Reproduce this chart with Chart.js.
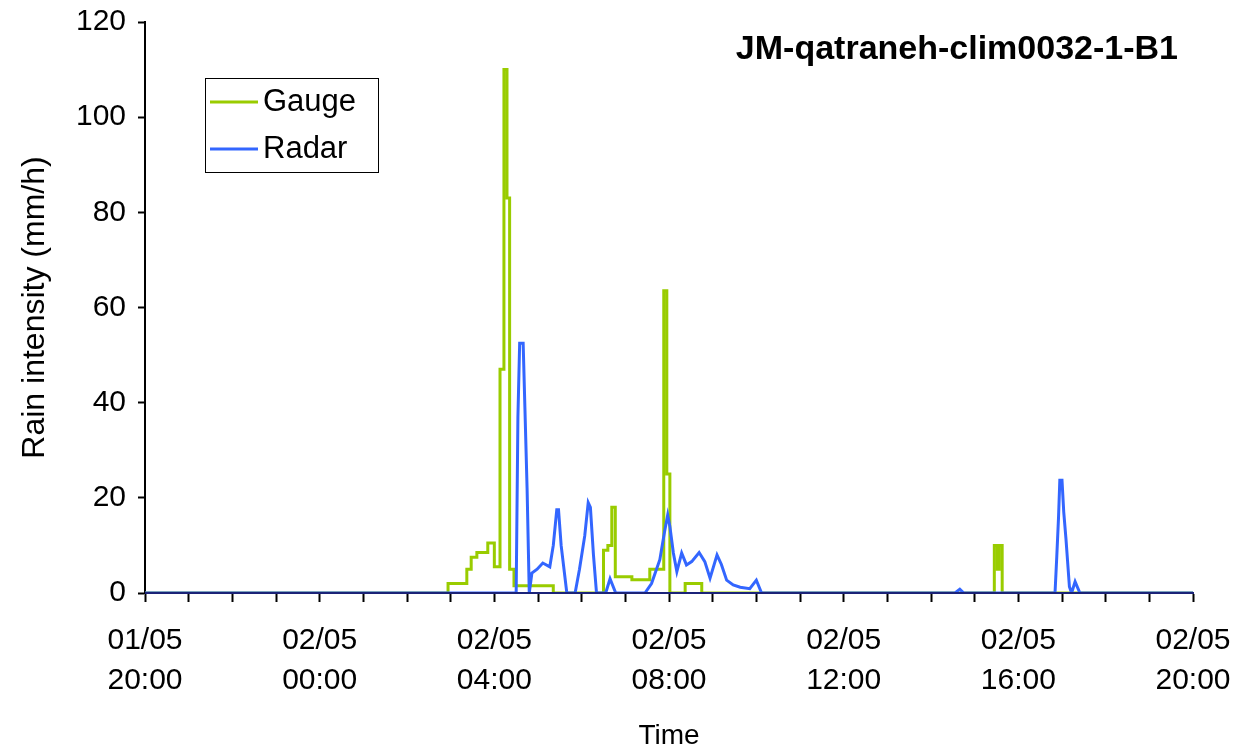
<!DOCTYPE html>
<html><head><meta charset="utf-8">
<script src="https://cdn.jsdelivr.net/npm/chart.js@4/dist/chart.umd.min.js"></script>
<style>html,body{margin:0;padding:0;background:#fff}</style>
</head><body>
<canvas id="c" width="1240" height="753"></canvas>
<script>
const chartTitle = 'JM-qatraneh-clim0032-1-B1';
const seriesNames = ['Gauge', 'Radar'];
const xTitle = 'Time';
const yTitle = 'Rain intensity (mm/h)';
// hours since 01/05 20:00
const tickHours = [0, 4, 8, 12, 16, 20, 24];
const tickDates = ['01/05', '02/05', '02/05', '02/05', '02/05', '02/05', '02/05'];
const tickTimes = ['20:00', '00:00', '04:00', '08:00', '12:00', '16:00', '20:00'];

const gaugeHours  = [0, 6.94, 7.37, 7.47, 7.6, 7.85, 8.0, 8.13, 8.22, 8.29, 8.35, 8.45, 9.35, 10.5, 10.6, 10.69, 10.77, 11.15, 11.56, 11.88, 11.95, 12.02, 12.37, 12.75, 19.45, 19.52, 19.56, 19.63, 24];
const gaugeValues = [0, 2,    5,    7.5,  8.5, 10.5, 5.5, 47,   110,  83,   5,    1.5,  0,    9,    10,   18,    3.4,   2.8,   5,     63.5,  25,    0,     2,     0,     10,    5,     10,    0,     0];

const radarHours  = [0, 8.5, 8.54, 8.58, 8.66, 8.7, 8.75, 8.8, 8.86, 8.98, 9.11, 9.27, 9.35, 9.43, 9.47, 9.53, 9.66, 9.85, 9.95, 10.07, 10.15, 10.2, 10.27, 10.34, 10.55, 10.65, 10.78, 11.45, 11.6, 11.79, 11.9, 11.97, 12.02, 12.1, 12.18, 12.29, 12.4, 12.52, 12.69, 12.82, 12.94, 13.1, 13.2, 13.32, 13.47, 13.63, 13.85, 14.0, 14.12, 18.55, 18.66, 18.75, 20.84, 20.88, 20.92, 20.95, 21.0, 21.04, 21.09, 21.17, 21.22, 21.3, 21.41, 24];
const radarValues = [0, 0,   37,   52.5, 52.5, 39,  22,   0,   4.2,  5,    6.3,  5.5,  10,   17.5, 17.5, 10,   0,    0,    5,    12,    19,    18,   8,     0,     0,     3,     0,     0,     2,    7,     13,   16.4,  14,    8.4,  4.5,   8.4,   5.9,  6.6,   8.5,   6.6,   3.1,   8,    6,    2.7,   1.7,   1.2,   0.9,   2.7,  0,     0,     0.8,   0,     0,     7.6,   15.8,  23.7,  23.7, 17,    11.5,  1.3,   0,     2.4,  0,     0];

const GREEN = '#99cc00';
const BLUE = '#3366ff';
const FONT = "'Liberation Sans', Arial, sans-serif";

const toXY = (xs, ys) => xs.map((x, i) => ({x: x, y: ys[i]}));

const overlay = {
  id: 'overlay',
  afterDatasetsDraw(chart) {
    const {ctx, chartArea} = chart;
    ctx.save();
    ctx.strokeStyle = '#1b2378';
    ctx.lineWidth = 2;
    ctx.beginPath();
    ctx.moveTo(chartArea.left, chartArea.bottom);
    ctx.lineTo(chartArea.right, chartArea.bottom);
    ctx.stroke();
    ctx.restore();
  },
  afterDraw(chart) {
    const {ctx} = chart;
    ctx.save();
    ctx.fillStyle = '#000';
    ctx.font = 'bold 34px ' + FONT;
    ctx.textAlign = 'right';
    ctx.textBaseline = 'middle';
    ctx.fillText(chartTitle, 1178, 50);
    // legend
    ctx.strokeStyle = '#000';
    ctx.lineWidth = 1;
    ctx.strokeRect(205.5, 78.5, 173, 94);
    const cols = [GREEN, BLUE];
    const ys = [102, 149];
    ctx.font = '31px ' + FONT;
    ctx.textAlign = 'left';
    for (let i = 0; i < 2; i++) {
      ctx.strokeStyle = cols[i];
      ctx.lineWidth = 3;
      ctx.beginPath();
      ctx.moveTo(210, ys[i]);
      ctx.lineTo(258, ys[i]);
      ctx.stroke();
      ctx.fillStyle = '#000';
      ctx.fillText(seriesNames[i], 263, ys[i]);
    }
    ctx.restore();
  }
};

new Chart(document.getElementById('c'), {
  type: 'line',
  data: {
    datasets: [
      {label: seriesNames[0], data: toXY(gaugeHours, gaugeValues), borderColor: GREEN, borderWidth: 3, stepped: 'before', pointRadius: 0, order: 1},
      {label: seriesNames[1], data: toXY(radarHours, radarValues), borderColor: BLUE, borderWidth: 3, pointRadius: 0, tension: 0, order: 0}
    ]
  },
  options: {
    responsive: false,
    animation: false,
    devicePixelRatio: 1,
    layout: {padding: {top: 22, right: 47, left: 0, bottom: 0}},
    plugins: {legend: {display: false}, tooltip: {enabled: false}},
    scales: {
      x: {
        type: 'linear', min: 0, max: 24,
        afterFit: s => { s.height = 160; s.paddingLeft = 0; s.paddingRight = 0; },
        ticks: {
          stepSize: 1, autoSkip: false, maxRotation: 0, color: '#000', padding: 19,
          font: {family: FONT, size: 30, lineHeight: 1.33},
          callback: v => { const i = tickHours.indexOf(v); return i >= 0 ? [tickDates[i], tickTimes[i]] : ''; }
        },
        grid: {drawOnChartArea: false, drawTicks: true, tickLength: 9, color: '#000', tickWidth: 2},
        border: {display: true, color: '#1b2378', width: 2},
        title: {display: true, text: xTitle, color: '#000', font: {family: FONT, size: 28}, padding: {top: 0, bottom: 0}}
      },
      y: {
        min: 0, max: 120,
        afterFit: s => { s.width = 145; s.paddingTop = 0; s.paddingBottom = 0; },
        ticks: {stepSize: 20, color: '#000', padding: 12, font: {family: FONT, size: 30}},
        grid: {drawOnChartArea: false, drawTicks: true, tickLength: 7, color: '#000', tickWidth: 2},
        border: {display: true, color: '#000', width: 2},
        title: {display: true, text: yTitle, color: '#000', font: {family: FONT, size: 32}, padding: {top: 16, bottom: 4}}
      }
    }
  },
  plugins: [overlay]
});
</script>
</body></html>
